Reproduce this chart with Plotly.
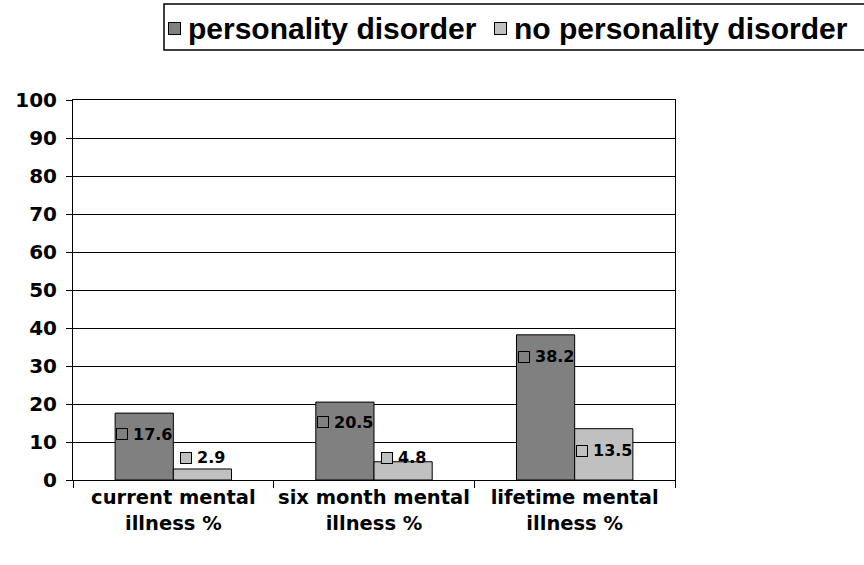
import plotly.graph_objects as go

categories = ["current mental<br>illness %", "six month mental<br>illness %", "lifetime mental<br>illness %"]
series_names = ["personality disorder", "no personality disorder"]
pd_values = [17.6, 20.5, 38.2]
no_pd_values = [2.9, 4.8, 13.5]
y_ticks = [0, 10, 20, 30, 40, 50, 60, 70, 80, 90, 100]

colors = ["#808080", "#C0C0C0"]
AX_FONT = "DejaVu Sans, sans-serif"
LEG_FONT = "Liberation Sans, Arial, sans-serif"

W, H = 864, 565
ML, MR, MT, MB = 73, 189, 100, 85
BARGAP = 0.42

fig = go.Figure()
for name, vals, col in zip(series_names, [pd_values, no_pd_values], colors):
    fig.add_trace(go.Bar(
        x=categories, y=vals, name=name, showlegend=False,
        marker=dict(color=col, line=dict(color="black", width=1)),
    ))

# data labels: legend key square + value, centred on each bar
plot_w = W - ML - MR
plot_h = H - MT - MB
cat_w = plot_w / len(categories)
bar_w = cat_w * (1 - BARGAP) / 2
label_dy = [[-21, -20, -22], [11, 4, -22]]  # pixel offset of label centre from bar top (+ = up)
fs_lab = 16
for si, (vals, col) in enumerate(zip([pd_values, no_pd_values], colors)):
    for ci, v in enumerate(vals):
        txt = f"{v}"
        tw = sum(0.38 * fs_lab if c == "." else 0.696 * fs_lab for c in txt)
        sq = 12
        gap = 4
        total = sq + gap + tw
        cx = (si - 0.5) * bar_w
        left = cx - total / 2
        fig.add_annotation(
            x=categories[ci], y=v, xref="x", yref="y",
            text="", width=sq - 2, height=sq - 2,
            bgcolor=col, bordercolor="black", borderwidth=1, borderpad=0,
            showarrow=False, xanchor="center", yanchor="middle",
            xshift=left + sq / 2, yshift=label_dy[si][ci],
        )
        fig.add_annotation(
            x=categories[ci], y=v, xref="x", yref="y",
            text=f"<b>{txt}</b>", showarrow=False,
            font=dict(family=AX_FONT, size=fs_lab, color="black"),
            xanchor="left", yanchor="middle",
            xshift=left + sq + gap - 1, yshift=label_dy[si][ci],
        )

# legend (drawn manually, Excel style: key square directly before the text)
leg_fs = 30
leg_left, leg_top, leg_bottom = 164, 4, 50
first_text_x = 187


def px_x(px):
    return (px - ML) / plot_w


def px_y(py):
    return 1 + (MT - py) / plot_h


fig.add_shape(type="rect", xref="paper", yref="paper",
              x0=px_x(leg_left), x1=px_x(W + 10),
              y0=px_y(leg_bottom), y1=px_y(leg_top),
              line=dict(color="black", width=1.5), fillcolor="white", layer="above")
leg_cy = (leg_top + leg_bottom) / 2 + 1
em = {"p": .611, "e": .556, "r": .389, "s": .556, "o": .611, "n": .611, "a": .556, "l": .278,
      "i": .278, "t": .333, "y": .556, " ": .278, "d": .611}
tx = first_text_x
for name, col in zip(series_names, colors):
    fig.add_annotation(
        x=px_x(tx - 13), y=px_y(leg_cy),
        xref="paper", yref="paper", text="", width=11, height=11,
        bgcolor=col, bordercolor="black", borderwidth=1, borderpad=0,
        showarrow=False, xanchor="center", yanchor="middle",
    )
    fig.add_annotation(
        x=px_x(tx - 1), y=px_y(leg_cy),
        xref="paper", yref="paper", text=f"<b>{name}</b>",
        font=dict(family=LEG_FONT, size=leg_fs, color="black"),
        showarrow=False, xanchor="left", yanchor="middle",
    )
    tx = tx + sum(em[c] for c in name) * leg_fs + 38

fig.update_layout(
    width=W, height=H,
    margin=dict(l=ML, r=MR, t=MT, b=MB, pad=0, autoexpand=False),
    paper_bgcolor="white", plot_bgcolor="white",
    barmode="group", bargap=BARGAP, bargroupgap=0,
    font=dict(family=AX_FONT, size=20, color="black"),
    showlegend=False,
    xaxis=dict(
        showline=True, linecolor="black", linewidth=1, mirror=True,
        ticks="outside", ticklen=7, tickcolor="black", tickson="boundaries",
        tickfont=dict(family=AX_FONT, size=19.5, color="black"),
        tickangle=0, automargin=False,
        showgrid=False,
        tickprefix="<b>", ticksuffix="</b>",
    ),
    yaxis=dict(
        range=[0, 100], tickvals=y_ticks,
        ticktext=[f"<b>{t}</b>" for t in y_ticks],
        showline=True, linecolor="black", linewidth=1, mirror=True,
        ticks="outside", ticklen=6, tickcolor="black", ticklabelstandoff=5,
        showgrid=True, gridcolor="black", gridwidth=1,
        tickfont=dict(family=AX_FONT, size=20, color="black"),
        zeroline=False, automargin=False,
    ),
)

fig.write_html("out.html", post_script="document.body.style.margin='0';",
               config={"displayModeBar": False})
